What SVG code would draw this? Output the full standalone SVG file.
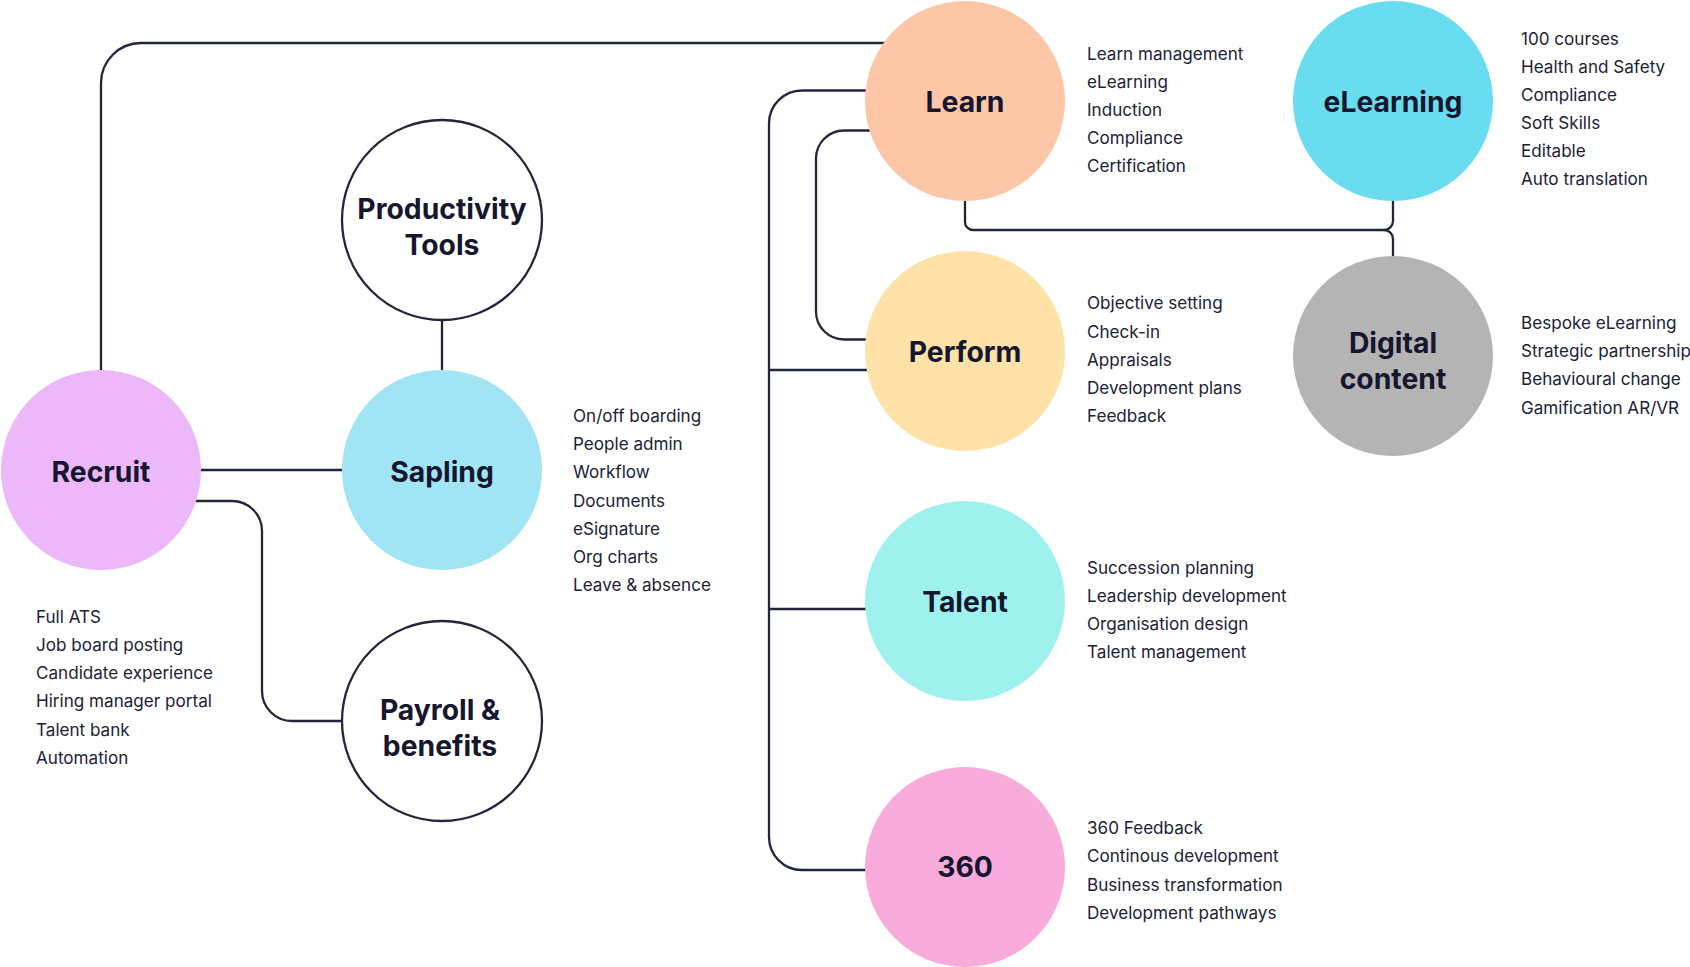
<svg xmlns="http://www.w3.org/2000/svg" width="1690" height="967" viewBox="0 0 1690 967">
<style>
.bg{fill:#ffffff}
.wire{fill:none;stroke:#23263a;stroke-width:2.3;stroke-linecap:round;stroke-linejoin:round}
.outline{fill:#ffffff;stroke:#23263a;stroke-width:2.3}
.lbl{font-family:Inter,"Liberation Sans",sans-serif;font-weight:700;font-size:28.3px;fill:#16172e;text-anchor:middle}
.lst{font-family:Inter,"Liberation Sans",sans-serif;font-weight:400;font-size:17.1px;fill:#202134}
</style>
<rect class="bg" x="0" y="0" width="1690" height="967"/>
<g id="connectors">
  <path class="wire" d="M101,370 V83 A40,40 0 0 1 141,43 H890"/>
  <path class="wire" d="M442,321 V372"/>
  <path class="wire" d="M200,470 H345"/>
  <path class="wire" d="M196,501 H232 A30,30 0 0 1 262,531 V691 A30,30 0 0 0 292,721 H345"/>
  <path class="wire" d="M870,90.5 H802 A33,33 0 0 0 769,123.5 V837 A33,33 0 0 0 802,870 H870"/>
  <path class="wire" d="M769,370 H870"/>
  <path class="wire" d="M769,609 H870"/>
  <path class="wire" d="M870,130.5 H844 A28,28 0 0 0 816,158.5 V311.5 A28,28 0 0 0 844,339.5 H870"/>
  <path class="wire" d="M965,195 V222 A8,8 0 0 0 973,230 H1384 A9,9 0 0 0 1393,221 V195"/>
  <path class="wire" d="M1384,230 A9,9 0 0 1 1393,239 V262"/>
</g>
<g id="node-learn">
  <circle cx="965" cy="101" r="100" fill="#fdc7a7"/>
  <text class="lbl" x="965" y="112">Learn</text>
  <text class="lst" x="1087" y="60">Learn management</text>
  <text class="lst" x="1087" y="88">eLearning</text>
  <text class="lst" x="1087" y="116">Induction</text>
  <text class="lst" x="1087" y="144">Compliance</text>
  <text class="lst" x="1087" y="172">Certification</text>
</g>
<g id="node-elearning">
  <circle cx="1393" cy="101" r="100" fill="#69dcef"/>
  <text class="lbl" x="1393" y="112">eLearning</text>
  <text class="lst" x="1521" y="45">100 courses</text>
  <text class="lst" x="1521" y="73">Health and Safety</text>
  <text class="lst" x="1521" y="101">Compliance</text>
  <text class="lst" x="1521" y="129">Soft Skills</text>
  <text class="lst" x="1521" y="157">Editable</text>
  <text class="lst" x="1521" y="185">Auto translation</text>
</g>
<g id="node-perform">
  <circle cx="965" cy="351" r="100" fill="#fee2a8"/>
  <text class="lbl" x="965" y="362">Perform</text>
  <text class="lst" x="1087" y="309">Objective setting</text>
  <text class="lst" x="1087" y="338">Check-in</text>
  <text class="lst" x="1087" y="366">Appraisals</text>
  <text class="lst" x="1087" y="394">Development plans</text>
  <text class="lst" x="1087" y="422">Feedback</text>
</g>
<g id="node-digital-content">
  <circle cx="1393" cy="356" r="100" fill="#b4b4b4"/>
  <text class="lbl" x="1393" y="353">Digital</text>
  <text class="lbl" x="1393" y="389">content</text>
  <text class="lst" x="1521" y="329">Bespoke eLearning</text>
  <text class="lst" x="1521" y="357">Strategic partnership</text>
  <text class="lst" x="1521" y="385">Behavioural change</text>
  <text class="lst" x="1521" y="414">Gamification AR/VR</text>
</g>
<g id="node-talent">
  <circle cx="965" cy="601" r="100" fill="#9ff1ee"/>
  <text class="lbl" x="965" y="612">Talent</text>
  <text class="lst" x="1087" y="574">Succession planning</text>
  <text class="lst" x="1087" y="602">Leadership development</text>
  <text class="lst" x="1087" y="630">Organisation design</text>
  <text class="lst" x="1087" y="658">Talent management</text>
</g>
<g id="node-360">
  <circle cx="965" cy="867" r="100" fill="#f9acdc"/>
  <text class="lbl" x="965" y="877">360</text>
  <text class="lst" x="1087" y="834">360 Feedback</text>
  <text class="lst" x="1087" y="862">Continous development</text>
  <text class="lst" x="1087" y="891">Business transformation</text>
  <text class="lst" x="1087" y="919">Development pathways</text>
</g>
<g id="node-productivity-tools">
  <circle class="outline" cx="442" cy="220" r="100"/>
  <text class="lbl" x="442" y="219">Productivity</text>
  <text class="lbl" x="442" y="255">Tools</text>
</g>
<g id="node-sapling">
  <circle cx="442" cy="470" r="100" fill="#a1e4f4"/>
  <text class="lbl" x="442" y="482">Sapling</text>
  <text class="lst" x="573" y="422">On/off boarding</text>
  <text class="lst" x="573" y="450">People admin</text>
  <text class="lst" x="573" y="478">Workflow</text>
  <text class="lst" x="573" y="507">Documents</text>
  <text class="lst" x="573" y="535">eSignature</text>
  <text class="lst" x="573" y="563">Org charts</text>
  <text class="lst" x="573" y="591">Leave &amp; absence</text>
</g>
<g id="node-recruit">
  <circle cx="101" cy="470" r="100" fill="#edb8f9"/>
  <text class="lbl" x="101" y="482">Recruit</text>
  <text class="lst" x="36" y="623">Full ATS</text>
  <text class="lst" x="36" y="651">Job board posting</text>
  <text class="lst" x="36" y="679">Candidate experience</text>
  <text class="lst" x="36" y="707">Hiring manager portal</text>
  <text class="lst" x="36" y="736">Talent bank</text>
  <text class="lst" x="36" y="764">Automation</text>
</g>
<g id="node-payroll-benefits">
  <circle class="outline" cx="442" cy="721" r="100"/>
  <text class="lbl" x="440" y="720">Payroll &amp;</text>
  <text class="lbl" x="440" y="756">benefits</text>
</g>
</svg>
